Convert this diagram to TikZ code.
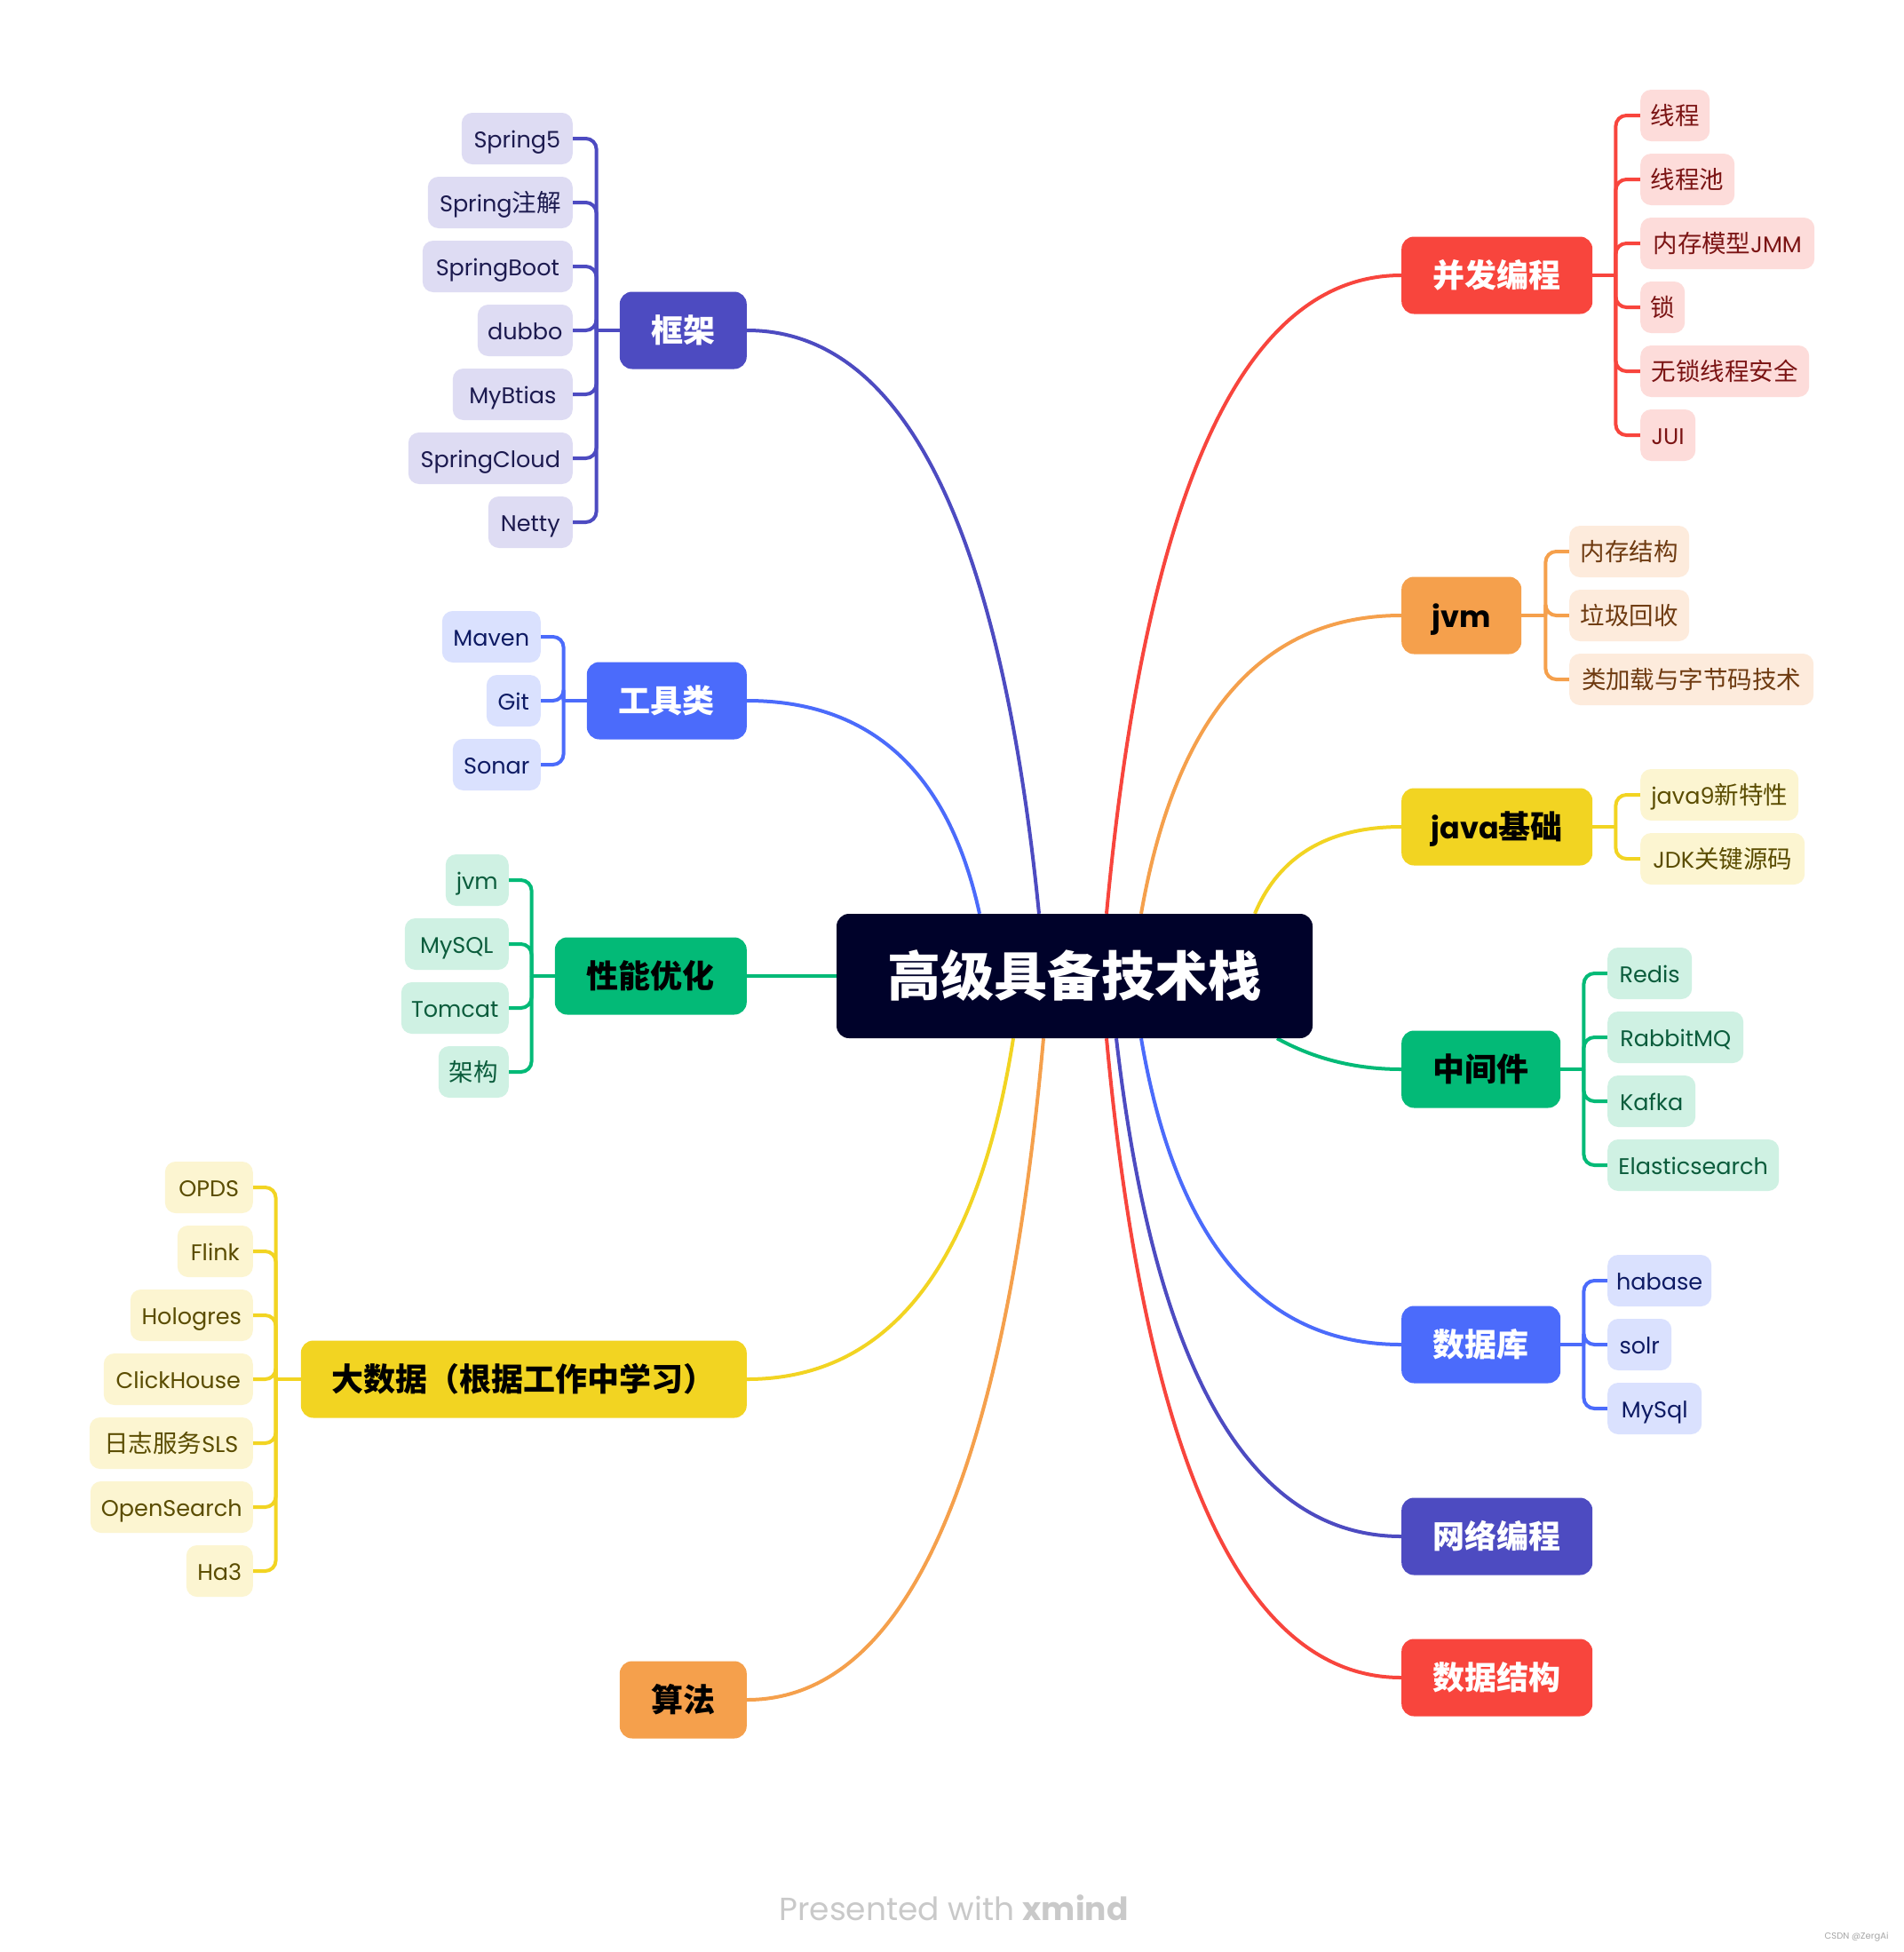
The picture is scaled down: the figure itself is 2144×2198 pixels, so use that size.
\documentclass[tikz,border=0pt]{standalone}
\usepackage{fontspec}
\setmainfont{Poppins}
\newfontfamily\cjk{Noto Sans CJK SC}[Scale=1.078]
\usetikzlibrary{calc,backgrounds}
\definecolor{cIndigo}{HTML}{4D4BC1}
\definecolor{cBlue}{HTML}{4B6BFB}
\definecolor{cGreen}{HTML}{03BA77}
\definecolor{cYellow}{HTML}{F2D422}
\definecolor{cOrange}{HTML}{F5A04C}
\definecolor{cRed}{HTML}{F8453D}
\definecolor{cCenter}{HTML}{00022A}
\definecolor{lIndigo}{HTML}{DEDCF3}
\definecolor{lBlue}{HTML}{DAE1FE}
\definecolor{lGreen}{HTML}{CFF1E3}
\definecolor{lYellow}{HTML}{FCF5D1}
\definecolor{lOrange}{HTML}{FDEBDC}
\definecolor{lRed}{HTML}{FDDCDA}
\definecolor{tIndigo}{HTML}{1C1A4F}
\definecolor{tBlue}{HTML}{0D1A63}
\definecolor{tGreen}{HTML}{0B5C3C}
\definecolor{tYellow}{HTML}{5A4C00}
\definecolor{tOrange}{HTML}{6E3A10}
\definecolor{tRed}{HTML}{7B1414}
\definecolor{footgray}{HTML}{C9C9C9}
\newcommand\zh[1]{{\cjk #1}}
\tikzset{
  conn/.style={line width=4pt},
  kid/.style={rounded corners=12pt, minimum height=58pt, inner sep=0pt,
    text height=20pt, text depth=0pt, font=\fontsize{25.5}{30}\selectfont},
  kidI/.style={kid, fill=lIndigo, text=tIndigo},
  kidB/.style={kid, fill=lBlue, text=tBlue},
  kidG/.style={kid, fill=lGreen, text=tGreen},
  kidY/.style={kid, fill=lYellow, text=tYellow},
  kidO/.style={kid, fill=lOrange, text=tOrange},
  kidR/.style={kid, fill=lRed, text=tRed},
  topic/.style={rounded corners=14pt, minimum height=87pt, inner sep=0pt,
    text height=27.4pt, text depth=0pt, font=\bfseries\fontsize{33.4}{40}\selectfont},
}
\newcommand\mmbranch[4]{%
  \coordinate (qs) at (#2);
  \coordinate (qe) at (#3);
  \coordinate (qc) at ($(qs|-qe)!#4!(qe)$);
  \draw[conn,#1] (qs) .. controls ($(qs)!0.6667!(qc)$) and ($(qe)!0.6667!(qc)$) .. (qe);
}
\newcommand\mmkids[4]{%
  \draw[conn,#1] (#2) -- ([xshift=#3]#2) coordinate (kj);
  \foreach \kk in {#4} {\draw[conn,#1,rounded corners=12pt] (kj) |- (\kk);}
}
\begin{document}
\begin{tikzpicture}[x=1pt,y=-1pt]
\useasboundingbox (0,0) rectangle (2144,2198);
% central topic
\node[rounded corners=14pt, fill=cCenter, text=white, minimum width=536pt, minimum height=140pt,
  inner sep=0pt, text height=45.6pt, text depth=0pt, font=\bfseries\fontsize{55.7}{60}\selectfont]
  (C) at (1210,1099) {\zh{高级具备技术栈}};
% main topics left
\node[topic, fill=cIndigo, text=white, minimum width=143pt, anchor=east] (K) at (841,372) {\zh{框架}};
\node[topic, fill=cBlue, text=white, minimum width=180pt, anchor=east] (T) at (841,789) {\zh{工具类}};
\node[topic, fill=cGreen, text=black, minimum width=216pt, anchor=east] (P) at (841,1099) {\zh{性能优化}};
\node[topic, fill=cYellow, text=black, minimum width=502pt, anchor=east] (B) at (841,1553) {\zh{大数据（根据工作中学习）}};
\node[topic, fill=cOrange, text=black, minimum width=143pt, anchor=east] (S) at (841,1914) {\zh{算法}};
% main topics right
\node[topic, fill=cRed, text=white, minimum width=215pt, anchor=west] (R) at (1578,310) {\zh{并发编程}};
\node[topic, fill=cOrange, text=black, minimum width=135pt, anchor=west] (J) at (1578,693) {jvm};
\node[topic, fill=cYellow, text=black, minimum width=215pt, anchor=west] (JB) at (1578,931) {java\zh{基础}};
\node[topic, fill=cGreen, text=black, minimum width=179pt, anchor=west] (M) at (1578,1204) {\zh{中间件}};
\node[topic, fill=cBlue, text=white, minimum width=179pt, anchor=west] (D) at (1578,1514) {\zh{数据库}};
\node[topic, fill=cIndigo, text=white, minimum width=215pt, anchor=west] (N) at (1578,1730) {\zh{网络编程}};
\node[topic, fill=cRed, text=white, minimum width=215pt, anchor=west] (DS) at (1578,1889) {\zh{数据结构}};
% framework children
\node[kidI, anchor=east, minimum width=125pt] (K1) at (645,156) {Spring5};
\node[kidI, anchor=east, minimum width=163pt] (K2) at (645,228) {Spring\zh{注解}};
\node[kidI, anchor=east, minimum width=169pt] (K3) at (645,300) {SpringBoot};
\node[kidI, anchor=east, minimum width=107pt] (K4) at (645,372) {dubbo};
\node[kidI, anchor=east, minimum width=135pt] (K5) at (645,444) {MyBtias\hspace{16pt}};
\node[kidI, anchor=east, minimum width=185pt] (K6) at (645,516) {SpringCloud};
\node[kidI, anchor=east, minimum width=95pt] (K7) at (645,588) {Netty};
% tools children
\node[kidB, anchor=east, minimum width=111pt] (T1) at (609,717) {Maven};
\node[kidB, anchor=east, minimum width=61pt] (T2) at (609,789) {Git};
\node[kidB, anchor=east, minimum width=99pt] (T3) at (609,861) {Sonar};
% performance children
\node[kidG, anchor=east, minimum width=71pt] (P1) at (573,991) {jvm};
\node[kidG, anchor=east, minimum width=117pt] (P2) at (573,1063) {MySQL};
\node[kidG, anchor=east, minimum width=121pt] (P3) at (573,1135) {Tomcat};
\node[kidG, anchor=east, minimum width=79pt] (P4) at (573,1207) {\zh{架构}};
% big data children
\node[kidY, anchor=east, minimum width=99pt] (B1) at (285,1337) {OPDS};
\node[kidY, anchor=east, minimum width=85pt] (B2) at (285,1409) {Flink};
\node[kidY, anchor=east, minimum width=138pt] (B3) at (285,1481) {Hologres};
\node[kidY, anchor=east, minimum width=168pt] (B4) at (285,1553) {ClickHouse};
\node[kidY, anchor=east, minimum width=184pt] (B5) at (285,1625) {\zh{日志服务}SLS};
\node[kidY, anchor=east, minimum width=183pt] (B6) at (285,1697) {OpenSearch};
\node[kidY, anchor=east, minimum width=75pt] (B7) at (285,1769) {Ha3};
% concurrency children
\node[kidR, anchor=west, minimum width=78pt] (R1) at (1847,130) {\zh{线程}};
\node[kidR, anchor=west, minimum width=106pt] (R2) at (1847,202) {\zh{线程池}};
\node[kidR, anchor=west, minimum width=196pt] (R3) at (1847,274) {\zh{内存模型}JMM};
\node[kidR, anchor=west, minimum width=50pt] (R4) at (1847,346) {\zh{锁}};
\node[kidR, anchor=west, minimum width=190pt] (R5) at (1847,418) {\zh{无锁线程安全}};
\node[kidR, anchor=west, minimum width=62pt] (R6) at (1847,490) {JUI};
% jvm children
\node[kidO, anchor=west, minimum width=135pt] (J1) at (1767,621) {\zh{内存结构}};
\node[kidO, anchor=west, minimum width=135pt] (J2) at (1767,693) {\zh{垃圾回收}};
\node[kidO, anchor=west, minimum width=275pt] (J3) at (1767,765) {\zh{类加载与字节码技术}};
% java basics children
\node[kidY, anchor=west, minimum width=178pt] (JB1) at (1847,895) {java9\zh{新特性}};
\node[kidY, anchor=west, minimum width=185pt] (JB2) at (1847,967) {JDK\zh{关键源码}};
% middleware children
\node[kidG, anchor=west, minimum width=95pt] (M1) at (1810,1096) {Redis};
\node[kidG, anchor=west, minimum width=153pt] (M2) at (1810,1168) {RabbitMQ};
\node[kidG, anchor=west, minimum width=99pt] (M3) at (1810,1240) {Kafka};
\node[kidG, anchor=west, minimum width=193pt] (M4) at (1810,1312) {Elasticsearch};
% database children
\node[kidB, anchor=west, minimum width=117pt] (D1) at (1810,1442) {habase};
\node[kidB, anchor=west, minimum width=72pt] (D2) at (1810,1514) {solr};
\node[kidB, anchor=west, minimum width=106pt] (D3) at (1810,1586) {MySql};
% footer
\node[text=footgray, font=\fontsize{36}{40}\selectfont] (foot) at (1074,2148) {Presented with \textbf{xmind}};
\node[text=gray!70, font=\fontsize{10}{12}\selectfont, anchor=east] (csdn) at (2130,2181) {CSDN @ZergAi};
% start points on the central topic
\coordinate (sK) at ([xshift=-40pt]C.north);
\coordinate (sT) at ([xshift=-107pt]C.north);
\coordinate (sR) at ([xshift=36pt]C.north);
\coordinate (sJ) at ([xshift=75pt]C.north);
\coordinate (sJB) at ([xshift=203pt]C.north);
\coordinate (sB) at ([xshift=-69pt]C.south);
\coordinate (sS) at ([xshift=-35pt]C.south);
\coordinate (sDS) at ([xshift=36pt]C.south);
\coordinate (sN) at ([xshift=47pt]C.south);
\coordinate (sD) at ([xshift=75pt]C.south);
\coordinate (sM) at ([xshift=228pt]C.south);
\begin{pgfonlayer}{background}
\fill[white] (0,0) rectangle (2144,2198);
\mmbranch{cIndigo}{sK}{K.east}{0.2}
\mmbranch{cBlue}{sT}{T.east}{0.2}
\draw[conn,cGreen] (C.west) -- (P.east);
\mmbranch{cYellow}{sB}{B.east}{0.2}
\mmbranch{cOrange}{sS}{S.east}{0.2}
\mmbranch{cRed}{sR}{R.west}{0.2}
\mmbranch{cOrange}{sJ}{J.west}{0.2}
\mmbranch{cYellow}{sJB}{JB.west}{0.25}
\mmbranch{cGreen}{sM}{M.west}{0.45}
\mmbranch{cBlue}{sD}{D.west}{0.2}
\mmbranch{cIndigo}{sN}{N.west}{0.2}
\mmbranch{cRed}{sDS}{DS.west}{0.2}
\mmkids{cIndigo}{K.west}{-26pt}{K1.east,K2.east,K3.east,K4.east,K5.east,K6.east,K7.east}
\mmkids{cBlue}{T.west}{-26pt}{T1.east,T2.east,T3.east}
\mmkids{cGreen}{P.west}{-26pt}{P1.east,P2.east,P3.east,P4.east}
\mmkids{cYellow}{B.west}{-28pt}{B1.east,B2.east,B3.east,B4.east,B5.east,B6.east,B7.east}
\mmkids{cRed}{R.east}{26pt}{R1.west,R2.west,R3.west,R4.west,R5.west,R6.west}
\mmkids{cOrange}{J.east}{27pt}{J1.west,J2.west,J3.west}
\mmkids{cYellow}{JB.east}{26pt}{JB1.west,JB2.west}
\mmkids{cGreen}{M.east}{26pt}{M1.west,M2.west,M3.west,M4.west}
\mmkids{cBlue}{D.east}{26pt}{D1.west,D2.west,D3.west}
\end{pgfonlayer}
\end{tikzpicture}
\end{document}
